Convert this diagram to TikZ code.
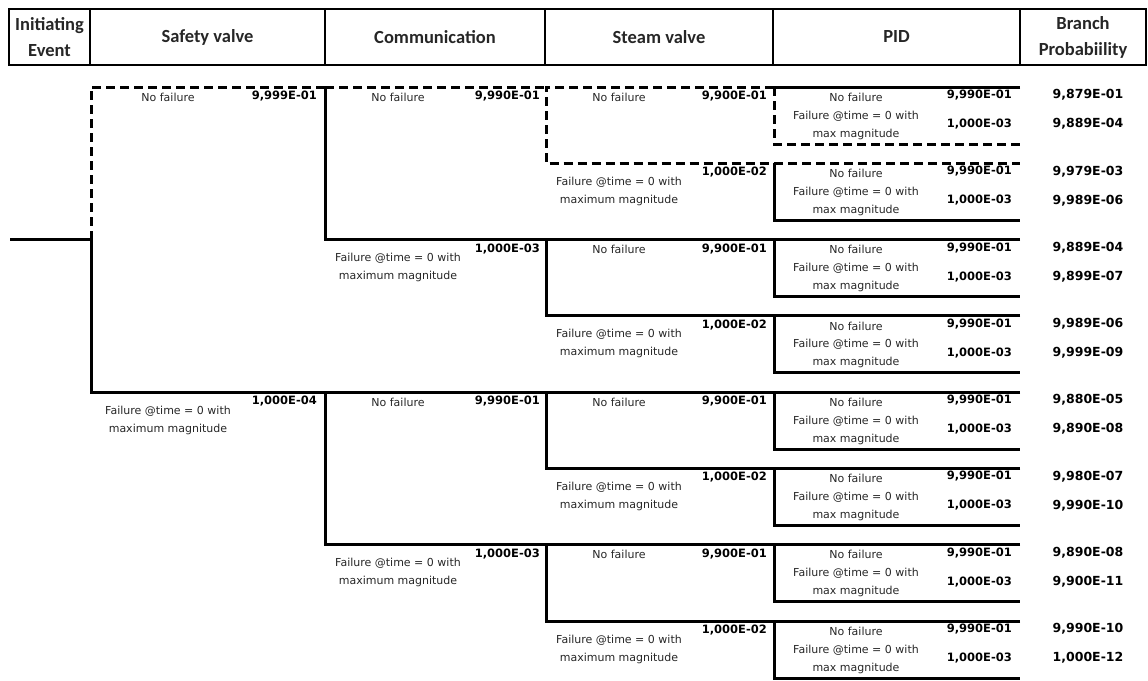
\documentclass[tikz,border=0pt]{standalone}
\usepackage{fontspec}
\newfontfamily\headfont{Carlito}
\newfontfamily\treefont{DejaVu Sans}
\usetikzlibrary{positioning}

\tikzset{
  branchline/.style={line width=3pt},
  hilite/.style={line width=3pt, dash pattern=on 9pt off 5pt},
  headcell/.style={draw, line width=2.2pt, minimum height=56pt, inner sep=0pt, align=center,
    text=black!85, font=\headfont\bfseries\fontsize{18.5}{26}\selectfont},
  outcome/.style={inner sep=0pt, align=center, text=black!85, font=\treefont\fontsize{11}{18}\selectfont},
  probval/.style={inner sep=0pt, font=\treefont\bfseries\fontsize{11.5}{14}\selectfont},
  branchprob/.style={probval, font=\treefont\bfseries\fontsize{12.5}{14}\selectfont},
}

\begin{document}
\begin{tikzpicture}[x=1pt, y=-1pt]
\useasboundingbox (0,0) rectangle (1148,680);
% header row
\node[headcell, minimum width=81pt] (h_init) at (49.5,37) {Initiating\\Event};
\node[headcell, minimum width=235pt] (h_safety) at (207.5,37) {Safety valve};
\node[headcell, minimum width=220pt] (h_comm) at (435,37) {Communication};
\node[headcell, minimum width=228pt] (h_steam) at (659,37) {Steam valve};
\node[headcell, minimum width=247pt] (h_pid) at (896.5,37) {PID};
\node[headcell, minimum width=126pt] (h_branch) at (1083,37) {Branch\\Probabiility};

% branch points
\coordinate (ie_start) at (10,239.6);
\coordinate (sv) at (91,239.6);
\coordinate (sv_ok) at (91,87);
\coordinate (sv_fail) at (91,392.2);
\coordinate (cm1_ok) at (325,87);
\coordinate (cm1_fail) at (325,239.6);
\coordinate (cm2_ok) at (325,392.2);
\coordinate (cm2_fail) at (325,544.8);
\foreach \r [count=\i] in {87,163.3,239.6,315.9,392.2,468.5,544.8,621.1}{
  \coordinate (p\i) at (774,\r);
  \coordinate (p\i_b) at (774,\r+57);
  \coordinate (q\i) at (1020,\r);
  \coordinate (q\i_b) at (1020,\r+57);
}
\foreach \r/\s [count=\i] in {87/163.3,239.6/315.9,392.2/468.5,544.8/621.1}{
  \coordinate (st\i_ok) at (546,\r);
  \coordinate (st\i_fail) at (546,\s);
}

% safety valve
\draw[hilite] (sv) -- (sv_ok) -- (cm1_ok);
\draw[branchline] (ie_start) -- (sv) -- (sv_fail) -- (cm2_ok);
\node[outcome] (sv_ok_txt) at (168,97) {No failure};
\node[probval, anchor=east] (sv_ok_p) at (317,96) {9,999E-01};
\node[outcome] (sv_fail_txt) at (168,420) {Failure @time = 0 with\\maximum magnitude};
\node[probval, anchor=east] (sv_fail_p) at (317,401) {1,000E-04};

% communication
\draw[hilite] (cm1_ok) -- (st1_ok);
\draw[branchline] (cm1_ok) -- (cm1_fail) -- (st2_ok);
\draw[branchline] (st4_ok) -- (cm2_fail) -- (cm2_ok) -- (st3_ok);
\foreach \r/\s [count=\i] in {87/239.6,392.2/544.8}{
  \node[outcome] (cm\i_ok_txt) at (398,\r+10) {No failure};
  \node[probval, anchor=east] (cm\i_ok_p) at (540,\r+9) {9,990E-01};
  \node[outcome] (cm\i_fail_txt) at (398,\s+28) {Failure @time = 0 with\\maximum magnitude};
  \node[probval, anchor=east] (cm\i_fail_p) at (540,\s+9) {1,000E-03};
}

% steam valve
\draw[hilite] (p1) -- (st1_ok) -- (st1_fail) -- (p2);
\draw[branchline] (p3) -- (st2_ok) -- (st2_fail) -- (p4);
\draw[branchline] (p5) -- (st3_ok) -- (st3_fail) -- (p6);
\draw[branchline] (p7) -- (st4_ok) -- (st4_fail) -- (p8);
\foreach \r/\s [count=\i] in {87/163.3,239.6/315.9,392.2/468.5,544.8/621.1}{
  \node[outcome] (st\i_ok_txt) at (619,\r+10) {No failure};
  \node[probval, anchor=east] (st\i_ok_p) at (767,\r+9) {9,900E-01};
  \node[outcome] (st\i_fail_txt) at (619,\s+28) {Failure @time = 0 with\\maximum magnitude};
  \node[probval, anchor=east] (st\i_fail_p) at (767,\s+9) {1,000E-02};
}

% PID and branch probabilities
\draw[branchline] (q1) -- (p1);
\draw[hilite] (p1) -- (p1_b) -- (q1_b);
\draw[hilite] (p2) -- (q2);
\draw[branchline] (p2) -- (p2_b) -- (q2_b);
\foreach \i in {3,...,8} \draw[branchline] (q\i) -- (p\i) -- (p\i_b) -- (q\i_b);
\foreach \r/\pa/\pb [count=\i] in {87/{9,879E-01}/{9,889E-04}, 163.3/{9,979E-03}/{9,989E-06},
    239.6/{9,889E-04}/{9,899E-07}, 315.9/{9,989E-06}/{9,999E-09},
    392.2/{9,880E-05}/{9,890E-08}, 468.5/{9,980E-07}/{9,990E-10},
    544.8/{9,890E-08}/{9,900E-11}, 621.1/{9,990E-10}/{1,000E-12}}{
  \node[outcome] (pid\i_ok_txt) at (856,\r+10) {No failure};
  \node[outcome] (pid\i_fail_txt) at (856,\r+38) {Failure @time = 0 with\\max magnitude};
  \node[probval, anchor=east] (pid\i_ok_p) at (1012,\r+8) {9,990E-01};
  \node[probval, anchor=east] (pid\i_fail_p) at (1012,\r+37) {1,000E-03};
  \node[branchprob] (bp\i_ok) at (1088,\r+8) {\pa};
  \node[branchprob] (bp\i_fail) at (1088,\r+37) {\pb};
}
\end{tikzpicture}
\end{document}
